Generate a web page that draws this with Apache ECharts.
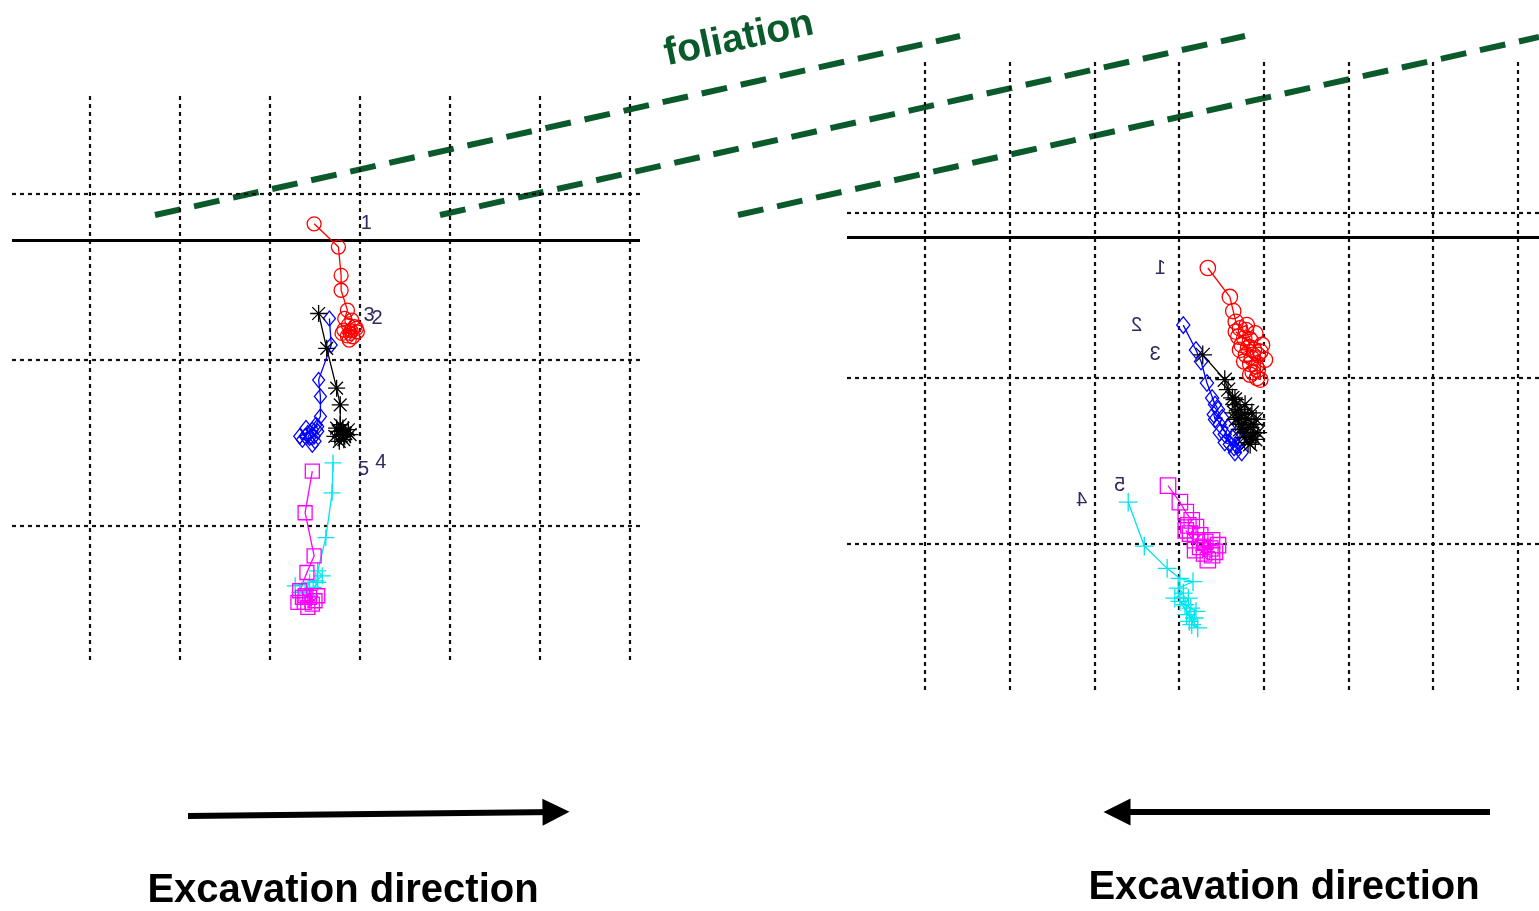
<!DOCTYPE html>
<html><head><meta charset="utf-8">
<script src="https://cdn.jsdelivr.net/npm/echarts@6/dist/echarts.min.js"></script>
<style>html,body{margin:0;padding:0;background:#fff}#c{width:1539px;height:911px}</style>
</head><body><div id="c"></div>
<script>
// ---- grid / reference lines (data units) ----
const leftGridX = [-3, -2, -1, 0, 1, 2, 3];
const leftGridY = [-1, 0, 1];
const leftBaseline = 0.723;
const rightGridX = [-3, -2, -1, 0, 1, 2, 3, 4];
const rightGridY = [-1, 0, 1];
const rightBaseline = 0.846;

// ---- left panel series ----
const leftP1 = [[-0.51,0.82],[-0.24,0.68],[-0.21,0.51],[-0.21,0.42],[-0.14,0.30],[-0.17,0.25],[-0.09,0.24],[-0.13,0.21],[-0.06,0.20],[-0.18,0.18],[-0.10,0.175],[-0.03,0.17],[-0.14,0.145],[-0.08,0.14],[-0.11,0.16],[-0.20,0.16],[-0.04,0.19],[-0.12,0.12]];
const leftP2 = [[-0.34,0.25],[-0.32,0.09],[-0.46,-0.12],[-0.44,-0.22],[-0.44,-0.34],[-0.49,-0.39],[-0.53,-0.42],[-0.58,-0.44],[-0.61,-0.46],[-0.64,-0.48],[-0.56,-0.47],[-0.51,-0.46],[-0.47,-0.43],[-0.60,-0.41],[-0.50,-0.49],[-0.53,-0.51],[-0.67,-0.46],[-0.47,-0.40]];
const leftP3 = [[-0.46,0.28],[-0.37,0.07],[-0.26,-0.17],[-0.22,-0.27],[-0.22,-0.39],[-0.19,-0.41],[-0.24,-0.43],[-0.16,-0.44],[-0.21,-0.46],[-0.28,-0.46],[-0.13,-0.42],[-0.18,-0.48],[-0.26,-0.41],[-0.11,-0.45],[-0.23,-0.49],[-0.17,-0.46]];
const leftP4 = [[-0.30,-0.62],[-0.31,-0.80],[-0.38,-1.07],[-0.47,-1.27],[-0.42,-1.30],[-0.49,-1.33],[-0.72,-1.36],[-0.56,-1.34],[-0.61,-1.39],[-0.52,-1.37],[-0.67,-1.40],[-0.58,-1.42],[-0.47,-1.34]];
const leftP5 = [[-0.53,-0.67],[-0.61,-0.92],[-0.51,-1.18],[-0.59,-1.28],[-0.67,-1.39],[-0.61,-1.42],[-0.56,-1.43],[-0.50,-1.45],[-0.69,-1.46],[-0.62,-1.46],[-0.53,-1.47],[-0.58,-1.49],[-0.47,-1.42],[-0.64,-1.43]];
const leftLabels = [["1",0.07,0.82],["3",0.10,0.27],["2",0.19,0.25],["5",0.04,-0.66],["4",0.23,-0.62]];

// ---- right panel series ----
const rightP1 = [[0.34,0.665],[0.60,0.49],[0.64,0.405],[0.67,0.34],[0.72,0.30],[0.80,0.32],[0.79,0.29],[0.90,0.27],[0.70,0.25],[0.77,0.24],[0.84,0.23],[0.98,0.20],[0.74,0.20],[0.815,0.18],[0.72,0.17],[0.885,0.17],[0.79,0.14],[0.86,0.12],[0.93,0.14],[1.015,0.11],[0.77,0.10],[0.84,0.085],[0.91,0.07],[0.93,0.05],[0.87,0.035],[0.84,0.02],[0.92,0.0],[0.96,-0.01],[0.96,0.16],[0.67,0.28]];
const rightP2 = [[0.05,0.32],[0.20,0.17],[0.26,0.10],[0.33,-0.03],[0.425,-0.16],[0.39,-0.12],[0.46,-0.19],[0.41,-0.22],[0.425,-0.25],[0.51,-0.24],[0.48,-0.28],[0.58,-0.30],[0.54,-0.34],[0.63,-0.36],[0.54,-0.39],[0.60,-0.40],[0.72,-0.37],[0.685,-0.41],[0.66,-0.45],[0.74,-0.45],[0.48,-0.33],[0.65,-0.42]];
const rightP3 = [[0.28,0.14],[0.54,-0.01],[0.58,-0.07],[0.63,-0.12],[0.66,-0.13],[0.67,-0.16],[0.78,-0.16],[0.72,-0.19],[0.65,-0.21],[0.86,-0.21],[0.77,-0.22],[0.70,-0.24],[0.91,-0.25],[0.815,-0.25],[0.74,-0.28],[0.84,-0.30],[0.72,-0.31],[0.79,-0.33],[0.93,-0.33],[0.86,-0.35],[0.90,-0.37],[0.815,-0.39],[0.84,-0.40],[0.885,-0.28],[0.67,-0.25],[0.77,-0.36]];
const rightP4 = [[-0.60,-0.75],[-0.41,-1.015],[-0.14,-1.15],[0.01,-1.21],[0.165,-1.23],[-0.01,-1.27],[0.05,-1.30],[-0.05,-1.33],[0.11,-1.33],[0.07,-1.37],[0.14,-1.39],[0.09,-1.43],[0.18,-1.45],[0.15,-1.49],[0.22,-1.51],[0.01,-1.35],[0.20,-1.41],[0.12,-1.47]];
const rightP5 = [[-0.13,-0.65],[0.01,-0.75],[0.08,-0.81],[0.15,-0.86],[0.11,-0.89],[0.20,-0.90],[0.13,-0.94],[0.25,-0.95],[0.19,-0.98],[0.39,-0.98],[0.31,-0.99],[0.46,-1.01],[0.25,-1.02],[0.37,-1.03],[0.19,-1.04],[0.425,-1.05],[0.295,-1.06],[0.39,-1.07],[0.34,-1.10],[0.08,-0.92]];
const rightLabels = [["1",-0.22,0.665],["2",-0.50,0.32],["3",-0.28,0.14],["4",-1.15,-0.74],["5",-0.70,-0.65]];

// ---- overlay annotations (page units) ----
const foliationLines = [[[155,215],[960,36]],[[440,215],[1245,36]],[[738,215],[1539,37]]];
const arrows = [[[188,816],[556,812]],[[1490,812],[1117,812]]];

const STAR = 'path://M0,-10L0,10M-10,0L10,0M-7.5,-7.5L7.5,7.5M-7.5,7.5L7.5,-7.5';
const PLUS = 'path://M0,-10L0,10M-10,0L10,0';
const styles = [
  {color:'#ff0000', symbol:'circle', size:14},
  {color:'#0000ff', symbol:'diamond', size:[12,15]},
  {color:'#000000', symbol:STAR, size:17},
  {color:'#00e5ee', symbol:PLUS, size:17},
  {color:'#ff00ff', symbol:'rect', size:14}
];
const leftData = [leftP1, leftP2, leftP3, leftP4, leftP5];
const rightData = [rightP1, rightP2, rightP3, rightP4, rightP5];

function scaleSize(s, k) { return Array.isArray(s) ? s.map(v => v * k) : s * k; }
function mkSeries(data, idx, st, k) {
  return {
    type:'line', xAxisIndex: idx, yAxisIndex: idx, data: data,
    symbol: st.symbol, symbolSize: scaleSize(st.size, k), showSymbol: true, showAllSymbol: true,
    itemStyle: {color:'rgba(0,0,0,0)', borderColor: st.color, borderWidth: 1.3},
    lineStyle: {color: st.color, width: 1.3},
    emphasis: {disabled: true}, silent: true, animation: false, clip: false, z: 5
  };
}
function gridLines(idx, xs, ys, base) {
  const dash = {color:'#111', width:2.2, type:[4,4]};
  const d = [];
  xs.forEach(v => d.push({xAxis: v, lineStyle: dash}));
  ys.forEach(v => d.push({yAxis: v, lineStyle: dash}));
  d.push({yAxis: base, lineStyle: {color:'#000', width:3, type:'solid'}});
  return {
    type:'scatter', xAxisIndex: idx, yAxisIndex: idx, data: [],
    silent: true, animation: false,
    markLine: {silent:true, symbol:['none','none'], label:{show:false}, animation:false, data: d}
  };
}

const axisOff = {show:false, splitLine:{show:false}};
const series = [gridLines(0, leftGridX, leftGridY, leftBaseline), gridLines(1, rightGridX, rightGridY, rightBaseline)];
leftData.forEach((d,i) => series.push(mkSeries(d, 0, styles[i], 1)));
rightData.forEach((d,i) => series.push(mkSeries(d, 1, styles[i], 1.1)));
series.push({
  type:'lines', coordinateSystem:'cartesian2d', xAxisIndex:2, yAxisIndex:2, silent:true, animation:false,
  data: foliationLines.map(c => ({coords: c})),
  lineStyle: {color:'#0b5a2b', width:6, type:[26,14], opacity:1}, z: 3
});
series.push({
  type:'lines', coordinateSystem:'cartesian2d', xAxisIndex:2, yAxisIndex:2, silent:true, animation:false,
  data: arrows.map(c => ({coords: c})),
  symbol: ['none','triangle'], symbolSize: [24,27],
  lineStyle: {color:'#000', width:6, opacity:1},
  itemStyle: {color:'#000'}, z: 3
});

const option = {
  animation: false,
  backgroundColor: '#fff',
  grid: [
    {left:12, top:93, width:628, height:567},
    {left:847, top:58, width:692, height:632},
    {left:0, top:0, width:1539, height:911}
  ],
  xAxis: [
    Object.assign({gridIndex:0, type:'value', min:-3.867, max:3.111}, axisOff),
    Object.assign({gridIndex:1, type:'value', min:-3.92, max:4.25}, axisOff),
    Object.assign({gridIndex:2, type:'value', min:0, max:1539}, axisOff)
  ],
  yAxis: [
    Object.assign({gridIndex:0, type:'value', min:-1.807, max:1.608}, axisOff),
    Object.assign({gridIndex:1, type:'value', min:-1.885, max:1.934}, axisOff),
    Object.assign({gridIndex:2, type:'value', min:0, max:911, inverse:true}, axisOff)
  ],
  series: series
};

const chart = echarts.init(document.getElementById('c'), null, {renderer:'canvas'});
chart.setOption(option);

const g = [];
const labFont = '20px "Liberation Sans", Arial, sans-serif';
leftLabels.forEach(l => {
  const p = chart.convertToPixel({gridIndex:0}, [l[1], l[2]]);
  g.push({type:'text', x:p[0], y:p[1], z:10, style:{text:l[0], font:labFont, fill:'#332860', align:'center', verticalAlign:'middle'}});
});
rightLabels.forEach(l => {
  const p = chart.convertToPixel({gridIndex:1}, [l[1], l[2]]);
  g.push({type:'text', x:p[0], y:p[1], scaleX:-1, z:10, style:{text:l[0], font:labFont, fill:'#332860', align:'center', verticalAlign:'middle'}});
});
const titleFont = 'bold 40px "Liberation Sans", Arial, sans-serif';
g.push({type:'text', x:343, y:891, z:10, style:{text:'Excavation direction', font:titleFont, fill:'#000', align:'center', verticalAlign:'middle'}});
g.push({type:'text', x:1284, y:888, z:10, style:{text:'Excavation direction', font:titleFont, fill:'#000', align:'center', verticalAlign:'middle'}});
g.push({type:'text', x:739, y:39, rotation:0.21, z:10, style:{text:'foliation', font:'bold 39px "Liberation Sans", Arial, sans-serif', fill:'#0b5a2b', align:'center', verticalAlign:'middle'}});
chart.setOption({graphic: g});
</script></body></html>
